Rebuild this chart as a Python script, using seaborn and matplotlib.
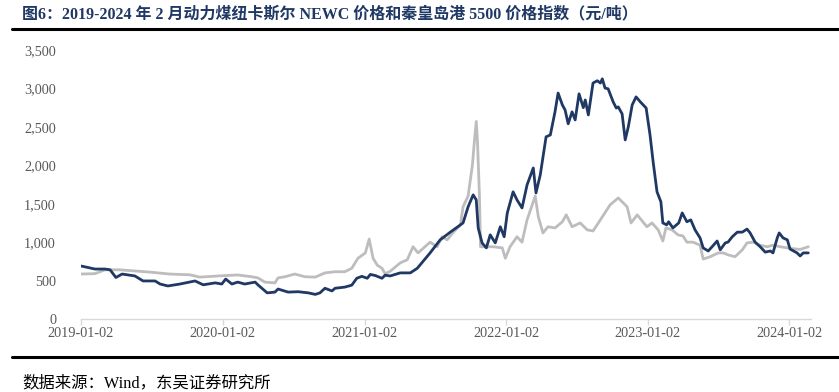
import matplotlib
matplotlib.use("Agg")
import matplotlib.pyplot as plt
import matplotlib.dates as mdates
import matplotlib.ticker as ticker
from matplotlib.lines import Line2D
import pandas as pd
import seaborn as sns

sns.set_theme(style="white")
plt.rcParams['font.family'] = ['Liberation Serif', 'Noto Sans CJK SC', 'DejaVu Sans']

# 纽卡斯尔 NEWC 动力煤价格 (元/吨)
newc_dates = [
    "2019-01-02", "2019-01-25", "2019-02-07", "2019-03-05", "2019-03-18", "2019-04-02",
    "2019-04-18", "2019-05-21", "2019-06-11", "2019-07-12", "2019-07-25", "2019-08-14",
    "2019-09-14", "2019-10-23", "2019-11-13", "2019-12-14", "2019-12-31", "2020-01-10",
    "2020-01-26", "2020-02-10", "2020-02-28", "2020-03-26", "2020-04-02", "2020-04-26",
    "2020-05-16", "2020-05-24", "2020-06-19", "2020-07-15", "2020-08-10", "2020-08-28",
    "2020-09-09", "2020-09-22", "2020-10-10", "2020-10-18", "2020-11-12", "2020-11-30",
    "2020-12-13", "2020-12-26", "2021-01-09", "2021-01-17", "2021-01-30", "2021-02-16",
    "2021-02-24", "2021-03-09", "2021-04-04", "2021-04-30", "2021-05-18", "2021-06-20",
    "2021-07-16", "2021-08-11", "2021-09-13", "2021-09-26", "2021-10-09", "2021-10-17",
    "2021-10-22", "2021-11-01", "2021-11-12", "2021-11-22", "2021-12-05", "2021-12-18",
    "2021-12-28", "2022-01-05", "2022-01-20", "2022-01-30", "2022-02-12", "2022-02-25",
    "2022-03-13", "2022-03-20", "2022-03-31", "2022-04-15", "2022-04-26", "2022-05-08",
    "2022-05-16", "2022-05-27", "2022-06-03", "2022-06-11", "2022-06-21", "2022-06-29",
    "2022-07-09", "2022-07-20", "2022-07-25", "2022-08-02", "2022-08-14", "2022-08-25",
    "2022-09-02", "2022-09-07", "2022-09-14", "2022-09-22", "2022-10-05", "2022-10-13",
    "2022-10-18", "2022-10-28", "2022-11-05", "2022-11-13", "2022-11-23", "2022-12-03",
    "2022-12-14", "2022-12-29", "2023-01-08", "2023-01-16", "2023-01-26", "2023-02-05",
    "2023-02-10", "2023-02-20", "2023-02-25", "2023-03-08", "2023-03-23", "2023-04-01",
    "2023-04-13", "2023-04-23", "2023-05-04", "2023-05-17", "2023-05-25", "2023-06-07",
    "2023-06-17", "2023-06-30", "2023-07-08", "2023-07-21", "2023-07-28", "2023-08-08",
    "2023-08-21", "2023-09-03", "2023-09-15", "2023-09-23", "2023-10-06", "2023-10-19",
    "2023-11-01", "2023-11-14", "2023-11-21", "2023-12-02", "2023-12-07", "2023-12-17",
    "2023-12-28", "2024-01-04", "2024-01-22", "2024-01-30", "2024-02-07", "2024-02-20",
]
newc_values = [
    690, 665, 650, 650, 640, 540,
    585, 560, 495, 495, 455, 430,
    455, 495, 445, 470, 455, 520,
    455, 480, 455, 480, 445, 340,
    350, 390, 350, 355, 340, 320,
    340, 400, 365, 400, 415, 440,
    530, 555, 530, 580, 565, 530,
    570, 560, 600, 600, 660, 860,
    1030, 1130, 1250, 1460, 1615, 1550,
    1185, 990, 925, 1095, 990, 1200,
    1070, 1380, 1655, 1550, 1445, 1745,
    1965, 1640, 1875, 2370, 2395, 2695,
    2940, 2785, 2720, 2540, 2695, 2590,
    2930, 2750, 2850, 2655, 3070, 3100,
    3070, 3125, 3005, 2995, 2825, 2745,
    2760, 2670, 2330, 2500, 2785, 2890,
    2825, 2745, 2395, 2045, 1655, 1525,
    1250, 1225, 1265, 1185, 1250, 1380,
    1265, 1290, 1160, 1055, 925, 885,
    940, 1015, 900, 990, 1000, 1070,
    1130, 1130, 1170, 1120, 1000, 940,
    870, 885, 860, 1055, 1120, 1055,
    1030, 910, 860, 820, 860, 860,
]

# 秦皇岛港 5500 价格指数 (元/吨)
qhd_dates = [
    "2019-01-02", "2019-02-07", "2019-03-05", "2019-04-12", "2019-06-29", "2019-08-19",
    "2019-10-10", "2019-11-04", "2020-01-08", "2020-02-10", "2020-03-17", "2020-04-02",
    "2020-04-20", "2020-05-16", "2020-05-24", "2020-06-11", "2020-07-06", "2020-08-01",
    "2020-08-28", "2020-09-22", "2020-10-18", "2020-11-12", "2020-11-30", "2020-12-16",
    "2021-01-04", "2021-01-14", "2021-01-24", "2021-02-04", "2021-02-16", "2021-02-24",
    "2021-03-09", "2021-04-04", "2021-04-22", "2021-05-07", "2021-05-20", "2021-06-20",
    "2021-07-08", "2021-07-21", "2021-08-03", "2021-08-19", "2021-09-06", "2021-09-13",
    "2021-09-26", "2021-10-07", "2021-10-12", "2021-10-17", "2021-10-20", "2021-10-25",
    "2021-10-28", "2021-11-30", "2021-12-23", "2021-12-31", "2022-01-12", "2022-01-30",
    "2022-02-12", "2022-02-25", "2022-03-18", "2022-03-26", "2022-04-07", "2022-04-20",
    "2022-05-08", "2022-05-27", "2022-06-06", "2022-06-21", "2022-07-12", "2022-07-30",
    "2022-08-14", "2022-09-02", "2022-09-27", "2022-10-18", "2022-11-10", "2022-11-20",
    "2022-12-06", "2022-12-31", "2023-01-13", "2023-01-29", "2023-02-10", "2023-02-18",
    "2023-03-06", "2023-03-21", "2023-04-03", "2023-04-13", "2023-04-29", "2023-05-17",
    "2023-05-25", "2023-06-12", "2023-07-03", "2023-07-16", "2023-07-28", "2023-08-15",
    "2023-09-03", "2023-09-15", "2023-10-01", "2023-10-19", "2023-11-06", "2023-11-21",
    "2023-12-10", "2023-12-28", "2024-01-12", "2024-01-30", "2024-02-20",
]
qhd_values = [
    585, 590, 640, 640, 610, 585,
    575, 545, 565, 573, 550, 535,
    480, 470, 535, 550, 585, 550,
    545, 600, 615, 615, 660, 790,
    860, 1040, 790, 700, 660, 590,
    620, 730, 770, 940, 860, 1000,
    940, 1070, 1030, 1130, 1220, 1460,
    1600, 2000, 2300, 2570, 2330, 1640,
    940, 940, 925, 790, 940, 1070,
    1000, 1290, 1600, 1330, 1120, 1200,
    1185, 1265, 1355, 1200, 1250, 1160,
    1145, 1290, 1485, 1575, 1460, 1250,
    1355, 1200, 1250, 1160, 1015, 1185,
    1160, 1095, 1080, 1000, 1000, 960,
    780, 810, 860, 860, 835, 810,
    900, 990, 1000, 960, 940, 960,
    940, 925, 915, 905, 940,
]
xtick_labels = ["2019-01-02", "2020-01-02", "2021-01-02", "2022-01-02", "2023-01-02", "2024-01-02"]

newc = pd.DataFrame({"date": pd.to_datetime(newc_dates), "value": newc_values})
qhd = pd.DataFrame({"date": pd.to_datetime(qhd_dates), "value": qhd_values})

fig = plt.figure(figsize=(8.39, 3.92), dpi=100)
ax = fig.add_axes([81 / 839, 73 / 392, 730 / 839, 269 / 392])

sns.lineplot(data=qhd, x="date", y="value", ax=ax, color="#BDBDBD", linewidth=2.0)
sns.lineplot(data=newc, x="date", y="value", ax=ax, color="#1F3864", linewidth=2.0)

ax.set_ylim(0, 3500)
ax.set_xlim(pd.Timestamp("2019-01-02"), pd.Timestamp("2024-02-27"))
ax.yaxis.set_major_locator(ticker.MultipleLocator(500))
ax.yaxis.set_major_formatter(ticker.FuncFormatter(lambda v, p: f"{int(v):,}"))
ax.set_xticks(pd.to_datetime(xtick_labels))
ax.set_xticklabels(xtick_labels)
ax.set_xlabel("")
ax.set_ylabel("")

for s in ["left", "right", "top"]:
    ax.spines[s].set_visible(False)
ax.spines["bottom"].set_color("#D9D9D9")
ax.spines["bottom"].set_linewidth(1.0)
ax.tick_params(axis="x", which="major", bottom=True, direction="out", length=4,
               width=1, color="#D9D9D9", labelsize=10.3, labelcolor="#595959", pad=2)
ax.tick_params(axis="y", left=False, labelsize=10.3, labelcolor="#595959", pad=12)

fig.text(22 / 839, 1 - 14 / 392,
         "图6：2019-2024 年 2 月动力煤纽卡斯尔 NEWC 价格和秦皇岛港 5500 价格指数（元/吨）",
         fontsize=11.5, fontweight="bold", color="#1F3864", va="center", ha="left")
fig.add_artist(Line2D([12 / 839, 1], [1 - 29 / 392, 1 - 29 / 392], color="black", linewidth=2.2))
fig.add_artist(Line2D([12 / 839, 1], [1 - 357 / 392, 1 - 357 / 392], color="black", linewidth=2.2))
fig.text(22 / 839, 1 - 383 / 392, "数据来源：Wind，东吴证券研究所",
         fontsize=11.8, color="black", va="center", ha="left")

fig.savefig("out.png", dpi=100)
